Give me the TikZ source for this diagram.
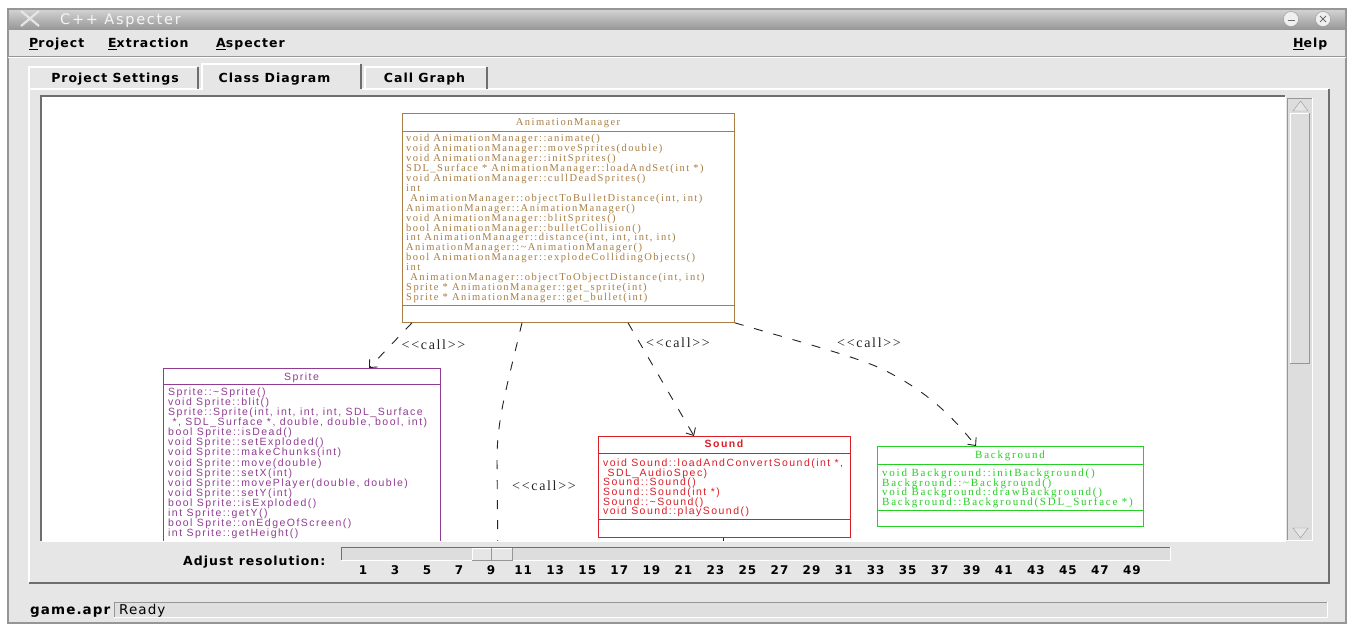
\documentclass[tikz,border=0pt]{standalone}
\usepackage{fontspec}
\setmainfont{Liberation Serif}
\newfontfamily\guifont[LetterSpace=8]{DejaVu Sans}
\newfontfamily\wintitlefont[LetterSpace=12]{DejaVu Sans}
\newfontfamily\umlserif[LetterSpace=14]{Liberation Serif}
\newfontfamily\umlwide[LetterSpace=16]{Liberation Serif}
\newfontfamily\umlsans[LetterSpace=14]{Liberation Sans}
\newfontfamily\callfont[LetterSpace=12]{Liberation Serif}
\newcommand\tightlines{\lineskiplimit=-100pt\relax}
\usetikzlibrary{arrows.meta, calc}

\definecolor{panelgray}{RGB}{230,230,230}
\definecolor{edgegray}{RGB}{150,150,150}
\definecolor{darkedge}{RGB}{110,110,110}
\definecolor{troughgray}{RGB}{221,221,221}
\definecolor{titletop}{RGB}{212,212,212}
\definecolor{titlebottom}{RGB}{152,152,152}
\definecolor{callgray}{RGB}{35,35,35}
\definecolor{amcolor}{RGB}{168,126,68}
\definecolor{sprcolor}{RGB}{144,60,148}
\definecolor{sndcolor}{RGB}{220,30,40}
\definecolor{bgcolor}{RGB}{36,208,36}

\begin{document}
\begin{tikzpicture}[x=1pt, y=-1pt]
    % Define styles
    \tikzset{
        guitext/.style={inner sep=0pt, anchor=base west, font=\guifont\bfseries\fontsize{12.5}{15}\selectfont},
        tablabel/.style={guitext, anchor=base},
        ticklabel/.style={inner sep=0pt, anchor=base, font=\guifont\bfseries\fontsize{12}{14}\selectfont},
        classbox/.style={draw, line width=0.8pt, inner sep=0pt, anchor=north west},
        classname/.style={inner sep=0pt, anchor=base},
        members/.style={inner sep=0pt, anchor=north west, align=left},
        serifsmall/.style={font=\umlserif\fontsize{10.5}{9.9}\selectfont\tightlines},
        serifwide/.style={font=\umlwide\fontsize{11}{9.8}\selectfont\tightlines},
        sanssmall/.style={font=\umlsans\fontsize{10.5}{10.1}\selectfont\tightlines},
        callline/.style={draw=callgray, line width=0.9pt, dash pattern=on 9pt off 11pt},
        callarrow/.style={callline, -{Straight Barb[length=6pt, width=11pt]}},
        calllabel/.style={inner sep=0pt, text=callgray, font=\callfont\fontsize{14}{14}\selectfont}
    }

    \useasboundingbox (0,0) rectangle (1351,627);
    \fill[white] (0,0) rectangle (1351,627);

    % Window body and title bar
    \fill[panelgray] (8,9) rectangle (1346,623);
    \shade[top color=titletop, bottom color=titlebottom] (8,9) rectangle (1346,29);
    \draw[edgegray, line width=1.5pt] (8,9) rectangle (1346,623);
    \draw[white!80!gray, line width=2.2pt] (21,11) -- (39,26) (21,26) -- (39,11);
    \node[inner sep=0pt, anchor=base west, text=white!92!gray, font=\wintitlefont\fontsize{14.5}{16}\selectfont] (wintitle) at (60,24.5) {C++ Aspecter};
    \draw[edgegray, fill=gray!12] (1291,19) circle (7.5);
    \draw[edgegray, fill=gray!12] (1323,19) circle (7.5);
    \draw[darkedge, line width=1pt] (1287.5,20.5) -- (1294.5,20.5);
    \draw[darkedge, line width=1pt] (1320,16) -- (1326,22) (1320,22) -- (1326,16);

    % Menu bar
    \draw[edgegray] (8,56) -- (1346,56);
    \draw[white] (8,57.5) -- (1346,57.5);
    \node[guitext] (mproject) at (29,47.5) {\underline{P}roject};
    \node[guitext] (mextract) at (108,47.5) {\underline{E}xtraction};
    \node[guitext] (maspect) at (216,47.5) {\underline{A}specter};
    \node[guitext] (mhelp) at (1293,47.5) {\underline{H}elp};

    % Tab panel
    \draw[white, line width=1.2pt] (29,583) -- (29,89) -- (1329,89);
    \draw[darkedge, line width=1.2pt] (29,583) -- (1329,583) -- (1329,89);
    \draw[white, line width=1.2pt] (29,89) -- (29,67) -- (197,67);
    \draw[darkedge, line width=1.2pt] (198,67) -- (198,89);
    \fill[panelgray] (201,64) rectangle (361,90);
    \draw[white, line width=1.2pt] (202,90) -- (202,64) -- (360,64);
    \draw[darkedge, line width=1.2pt] (361,64) -- (361,89);
    \draw[white, line width=1.2pt] (365,89) -- (365,67) -- (486,67);
    \draw[darkedge, line width=1.2pt] (487,67) -- (487,89);
    \node[tablabel] (tsettings) at (115,82.5) {Project Settings};
    \node[tablabel] (tclass) at (274.5,82.5) {Class Diagram};
    \node[tablabel] (tcall) at (424.5,82.5) {Call Graph};

    % Drawing area
    \fill[white] (41,96) rectangle (1285,541);
    \draw[darkedge, line width=1.5pt] (41,541) -- (41,96) -- (1285,96);
    \draw[white, line width=1pt] (41,541.5) -- (1285.5,541.5) -- (1285.5,96);

    % Scroll bar
    \fill[troughgray] (1287,98) rectangle (1312,540);
    \draw[edgegray] (1287,540) -- (1287,98) -- (1312,98);
    \draw[white] (1312,98) -- (1312,540) -- (1287,540);
    \draw[edgegray, fill=panelgray] (1293,111) -- (1300.5,101) -- (1308,111) -- cycle;
    \draw[white] (1290,363) -- (1290,113) -- (1309,113);
    \draw[edgegray, line width=1pt] (1309.5,113) -- (1309.5,363.5) -- (1290,363.5);
    \draw[edgegray, fill=panelgray] (1293,528) -- (1300.5,538) -- (1308,528) -- cycle;

    % Resolution slider
    \node[guitext] (reslabel) at (183,565.5) {Adjust resolution:};
    \fill[troughgray] (341,547) rectangle (1170,560);
    \draw[darkedge] (341,560) -- (341,547) -- (1170,547);
    \draw[white] (1170,547) -- (1170,560) -- (341,560);
    \fill[panelgray] (472,548) rectangle (512,560);
    \draw[white] (472,560) -- (472,548) -- (512,548);
    \draw[edgegray] (512,548) -- (512,560) -- (472,560);
    \draw[edgegray] (491.5,548) -- (491.5,560);
    \foreach \k in {0,...,24} {
        \pgfmathtruncatemacro\tickval{2*\k+1}
        \node[ticklabel] at (363+32.04*\k,574.5) {\tickval};
    }

    % Status bar
    \node[guitext, font=\guifont\bfseries\fontsize{13.5}{15}\selectfont] (projfile) at (30,614) {game.apr};
    \fill[gray!25] (114,602) rectangle (1327,617);
    \draw[edgegray] (114,617) -- (114,602) -- (1327,602);
    \draw[white] (1327,602) -- (1327,617) -- (114,617);
    \node[inner sep=0pt, anchor=base west, font=\guifont\fontsize{13.5}{15}\selectfont] (status) at (119,614) {Ready};

    \begin{scope}
        \clip (43,98) rectangle (1284,540);

        % AnimationManager
        \node[classbox, draw=amcolor, minimum width=332pt, minimum height=209pt] (am) at (402,113) {};
        \node[classname, text=amcolor, serifsmall] (amname) at (568,125.5) {AnimationManager};
        \draw[amcolor, line width=0.8pt] ($(am.north west)+(0,18)$) -- ($(am.north east)+(0,18)$);
        \draw[amcolor, line width=0.8pt] ($(am.north west)+(0,192)$) -- ($(am.north east)+(0,192)$);
        \node[members, text=amcolor, serifsmall] (amops) at (406,134.5) {
            void AnimationManager::animate()\\
            void AnimationManager::moveSprites(double)\\
            void AnimationManager::initSprites()\\
            SDL\_Surface * AnimationManager::loadAndSet(int *)\\
            void AnimationManager::cullDeadSprites()\\
            int\\
            \ AnimationManager::objectToBulletDistance(int, int)\\
            AnimationManager::AnimationManager()\\
            void AnimationManager::blitSprites()\\
            bool AnimationManager::bulletCollision()\\
            int AnimationManager::distance(int, int, int, int)\\
            AnimationManager::\textasciitilde AnimationManager()\\
            bool AnimationManager::explodeCollidingObjects()\\
            int\\
            \ AnimationManager::objectToObjectDistance(int, int)\\
            Sprite * AnimationManager::get\_sprite(int)\\
            Sprite * AnimationManager::get\_bullet(int)
        };

        % Sprite
        \node[classbox, draw=sprcolor, minimum width=277pt, minimum height=200pt] (spr) at (163,368) {};
        \node[classname, text=sprcolor, sanssmall] (sprname) at (301.5,380.5) {Sprite};
        \draw[sprcolor, line width=0.8pt] ($(spr.north west)+(0,16.5)$) -- ($(spr.north east)+(0,16.5)$);
        \node[members, text=sprcolor, sanssmall] (sprops) at (168,387.5) {
            Sprite::\textasciitilde Sprite()\\
            void Sprite::blit()\\
            Sprite::Sprite(int, int, int, int, SDL\_Surface\\
            \ *, SDL\_Surface *, double, double, bool, int)\\
            bool Sprite::isDead()\\
            void Sprite::setExploded()\\
            void Sprite::makeChunks(int)\\
            void Sprite::move(double)\\
            void Sprite::setX(int)\\
            void Sprite::movePlayer(double, double)\\
            void Sprite::setY(int)\\
            bool Sprite::isExploded()\\
            int Sprite::getY()\\
            bool Sprite::onEdgeOfScreen()\\
            int Sprite::getHeight()
        };

        % Sound
        \node[classbox, draw=sndcolor, minimum width=252pt, minimum height=101pt] (snd) at (598,436) {};
        \node[classname, text=sndcolor, font=\umlsans\bfseries\fontsize{10.5}{10}\selectfont] (sndname) at (724,447.5) {Sound};
        \draw[sndcolor, line width=0.8pt] ($(snd.north west)+(0,17)$) -- ($(snd.north east)+(0,17)$);
        \draw[sndcolor, line width=0.8pt] ($(snd.north west)+(0,83)$) -- ($(snd.north east)+(0,83)$);
        \node[members, text=sndcolor, font=\umlsans\fontsize{10.5}{9.7}\selectfont\tightlines] (sndops) at (603,458.5) {
            void Sound::loadAndConvertSound(int *,\\
            \ SDL\_AudioSpec)\\
            Sound::Sound()\\
            Sound::Sound(int *)\\
            Sound::\textasciitilde Sound()\\
            void Sound::playSound()
        };

        % Background
        \node[classbox, draw=bgcolor, minimum width=266pt, minimum height=80pt] (bg) at (877,446) {};
        \node[classname, text=bgcolor, serifwide] (bgname) at (1010,458.5) {Background};
        \draw[bgcolor, line width=0.8pt] ($(bg.north west)+(0,18)$) -- ($(bg.north east)+(0,18)$);
        \draw[bgcolor, line width=0.8pt] ($(bg.north west)+(0,64)$) -- ($(bg.north east)+(0,64)$);
        \node[members, text=bgcolor, serifwide] (bgops) at (882,468.5) {
            void Background::initBackground()\\
            Background::\textasciitilde Background()\\
            void Background::drawBackground()\\
            Background::Background(SDL\_Surface *)
        };

        % Call edges
        \coordinate (dropend) at (498,570);
        \coordinate (sndend) at (723,570);
        \draw[callarrow] ($(am.south west)+(10,0)$) -- ($(spr.north west)+(206,0)$);
        \draw[callline] ($(am.south west)+(120,0)$) .. controls (506,390) and (497,420) .. (497,460) -- (dropend);
        \draw[callarrow] ($(am.south west)+(226,0)$) -- ($(snd.north west)+(96,0)$);
        \draw[callarrow] (am.south east) .. controls (800,342) and (850,355) .. (880,368) .. controls (930,392) and (955,420) .. ($(bg.north west)+(99,0)$);
        \draw[callline] ($(snd.south west)+(125,0)$) -- (sndend);

        % Stereotype labels
        \node[calllabel] (lsprite) at (433.5,345) {<<call>>};
        \node[calllabel] (ldrop) at (544,486) {<<call>>};
        \node[calllabel] (lsound) at (678,343) {<<call>>};
        \node[calllabel] (lbg) at (869,343) {<<call>>};
    \end{scope}

\end{tikzpicture}
\end{document}
